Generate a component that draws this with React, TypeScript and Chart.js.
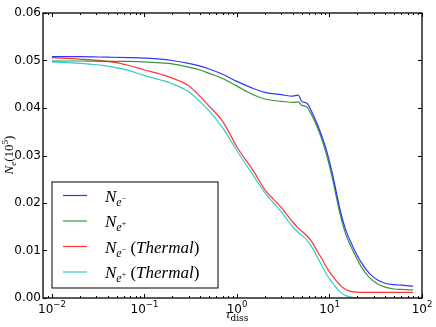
import React, { useEffect, useRef } from "react";
import { Chart, registerables } from "chart.js";

Chart.register(...registerables);

// ---- data ----
const tau = [0.01, 0.02, 0.04, 0.07, 0.1, 0.15, 0.2, 0.3, 0.4, 0.5, 0.7, 1, 1.5, 2, 3, 4, 4.6, 5, 5.7, 6.5, 7.3, 8.3, 9.4, 11, 13, 15, 18, 22, 27, 33, 40, 50, 60, 80];
const neMinus = [0.0508, 0.0508, 0.0507, 0.0506, 0.0505, 0.0503, 0.05, 0.0494, 0.0488, 0.0482, 0.0471, 0.0456, 0.0441, 0.0433, 0.0428, 0.0425, 0.0427, 0.0414, 0.041, 0.039, 0.0368, 0.034, 0.0307, 0.0253, 0.0186, 0.0143, 0.0107, 0.0075, 0.0052, 0.0038, 0.0031, 0.0028, 0.0027, 0.0025];
const nePlus = [0.0499, 0.0499, 0.0498, 0.0498, 0.0497, 0.0495, 0.0493, 0.0486, 0.048, 0.0473, 0.0462, 0.0446, 0.0428, 0.0419, 0.0414, 0.0412, 0.0413, 0.0406, 0.0402, 0.0383, 0.0362, 0.0333, 0.0298, 0.0243, 0.0177, 0.0134, 0.0099, 0.0066, 0.0043, 0.003, 0.0023, 0.0019, 0.0018, 0.0017];
const neMinusThermal = [0.0506, 0.0503, 0.0498, 0.0489, 0.048, 0.0471, 0.0463, 0.0447, 0.0424, 0.0404, 0.0372, 0.0318, 0.0268, 0.0228, 0.0191, 0.016, 0.0147, 0.0141, 0.0131, 0.0117, 0.01, 0.0082, 0.0063, 0.0044, 0.0027, 0.0018, 0.0013, 0.0012, 0.0012, 0.0012, 0.0012, 0.0012, 0.0012, 0.0012];
const nePlusThermal = [0.0497, 0.0494, 0.0488, 0.0478, 0.0468, 0.0459, 0.0451, 0.0434, 0.0413, 0.0394, 0.0358, 0.031, 0.0258, 0.0222, 0.0182, 0.015, 0.0138, 0.0132, 0.0122, 0.0106, 0.0088, 0.0068, 0.0048, 0.003, 0.0013, 0.0005, 0.0001, 0, 0, 0, 0, 0, 0, 0];

const seriesLabels = ["N_e\u2212", "N_e+", "N_e\u2212 (Thermal)", "N_e+ (Thermal)"];
const seriesSigns = ["\u2212", "+", "\u2212", "+"];
const seriesThermal = [false, false, true, true];
const seriesColors = ["rgba(0,0,255,0.8)", "rgba(0,128,0,0.8)", "rgba(255,0,0,0.8)", "rgba(0,191,191,0.8)"];

const xTickValues = [0.01, 0.1, 1, 10, 100];
const xTickExponents = ["\u22122", "\u22121", "0", "1", "2"];
const yTickValues = [0, 0.01, 0.02, 0.03, 0.04, 0.05, 0.06];
const xMin = 0.008;
const xMax = 100;

type Part = { t: string; size: number; italic?: boolean; dy?: number; family?: string };
const SERIF = "'Liberation Serif', 'DejaVu Serif', serif";
const SANS = "'DejaVu Sans', sans-serif";

function setFont(ctx: CanvasRenderingContext2D, p: Part) {
  ctx.font = `${p.italic ? "italic " : ""}${p.size}px ${p.family ?? SERIF}`;
}
function measureParts(ctx: CanvasRenderingContext2D, parts: Part[]) {
  let w = 0;
  for (const p of parts) {
    setFont(ctx, p);
    w += ctx.measureText(p.t).width;
  }
  return w;
}
function drawParts(ctx: CanvasRenderingContext2D, x: number, y: number, parts: Part[]) {
  let cx = x;
  for (const p of parts) {
    setFont(ctx, p);
    ctx.fillText(p.t, cx, y + (p.dy ?? 0));
    cx += ctx.measureText(p.t).width;
  }
  return cx;
}

const decorPlugin = {
  id: "decor",
  afterDatasetsDraw(chart: any) {
    const { ctx, chartArea: a, scales } = chart;
    const xs = scales.x;
    const ys = scales.y;
    ctx.save();
    ctx.strokeStyle = "#000";
    ctx.lineWidth = 1;
    const xLine = (v: number, len: number) => {
      const px = Math.round(xs.getPixelForValue(v)) + 0.5;
      ctx.beginPath();
      ctx.moveTo(px, a.bottom);
      ctx.lineTo(px, a.bottom - len);
      ctx.moveTo(px, a.top);
      ctx.lineTo(px, a.top + len);
      ctx.stroke();
    };
    for (const v of xTickValues) xLine(v, 4);
    for (let d = -3; d <= 1; d++) {
      for (let k = 2; k <= 9; k++) {
        const v = k * Math.pow(10, d);
        if (v > xMin && v < xMax) xLine(v, 2);
      }
    }
    for (const v of yTickValues) {
      const py = Math.round(ys.getPixelForValue(v)) + 0.5;
      ctx.beginPath();
      ctx.moveTo(a.left, py);
      ctx.lineTo(a.left + 4, py);
      ctx.moveTo(a.right, py);
      ctx.lineTo(a.right - 4, py);
      ctx.stroke();
    }
    ctx.lineWidth = 1.3;
    ctx.strokeRect(a.left, a.top, a.right - a.left, a.bottom - a.top);

    ctx.fillStyle = "#000";
    ctx.textBaseline = "alphabetic";
    ctx.textAlign = "left";
    xTickValues.forEach((v, i) => {
      const parts: Part[] = [
        { t: "10", size: 12, family: SANS },
        { t: xTickExponents[i], size: 8.5, family: SANS, dy: -6 },
      ];
      const w = measureParts(ctx, parts);
      const px = xs.getPixelForValue(v);
      drawParts(ctx, px - w / 2, a.bottom + 15, parts);
    });

    {
      const parts: Part[] = [
        { t: "\u03c4", size: 13, italic: true },
        { t: "diss", size: 9, dy: 3, family: "'DejaVu Serif', serif" },
      ];
      const w = measureParts(ctx, parts);
      drawParts(ctx, 237 - w / 2, 318, parts);
    }

    {
      ctx.save();
      ctx.translate(13, 155);
      ctx.rotate(-Math.PI / 2);
      const parts: Part[] = [
        { t: "N", size: 13, italic: true },
        { t: "e", size: 9, italic: true, dy: 3 },
        { t: "(10", size: 13 },
        { t: "5", size: 9, dy: -5 },
        { t: ")", size: 13 },
      ];
      const w = measureParts(ctx, parts);
      drawParts(ctx, -w / 2, 0, parts);
      ctx.restore();
    }

    const lx = 52, ly = 182, lw = 166, lh = 106;
    ctx.fillStyle = "#fff";
    ctx.fillRect(lx, ly, lw, lh);
    ctx.strokeStyle = "#000";
    ctx.lineWidth = 1;
    ctx.strokeRect(lx, ly, lw, lh);
    const rows = [195.5, 221, 246.5, 272];
    rows.forEach((ry, i) => {
      ctx.strokeStyle = seriesColors[i];
      ctx.lineWidth = 1.2;
      ctx.beginPath();
      ctx.moveTo(63, ry);
      ctx.lineTo(87, ry);
      ctx.stroke();
      ctx.fillStyle = "#000";
      const parts: Part[] = [
        { t: "N", size: 17, italic: true },
        { t: "e", size: 12, italic: true, dy: 4 },
        { t: seriesSigns[i], size: 8, dy: -1 },
      ];
      if (seriesThermal[i]) {
        parts.push({ t: " (", size: 17 });
        parts.push({ t: "Thermal", size: 17, italic: true });
        parts.push({ t: ")", size: 17 });
      }
      drawParts(ctx, 105, ry + 6, parts);
    });
    ctx.restore();
  },
};

export default function App() {
  const ref = useRef<HTMLCanvasElement | null>(null);
  useEffect(() => {
    if (!ref.current) return;
    const mk = (vals: number[]) => tau.map((t, i) => ({ x: t, y: vals[i] }));
    const allSeries = [neMinus, nePlus, neMinusThermal, nePlusThermal];
    const chart = new Chart(ref.current, {
      type: "line",
      data: {
        datasets: allSeries.map((s, i) => ({
          label: seriesLabels[i],
          data: mk(s),
          borderColor: seriesColors[i],
          backgroundColor: seriesColors[i],
          borderWidth: 1.2,
          pointRadius: 0,
          cubicInterpolationMode: "monotone",
          fill: false,
        })),
      },
      options: {
        animation: false,
        responsive: false,
        devicePixelRatio: 1,
        layout: { padding: { top: 13, right: 14, left: 0, bottom: 0 } },
        plugins: { legend: { display: false }, tooltip: { enabled: false } },
        scales: {
          x: {
            type: "logarithmic",
            min: xMin,
            max: xMax,
            grid: { display: false, drawTicks: false },
            border: { display: false },
            ticks: { display: false },
            afterFit: (s: any) => {
              s.height = 29;
            },
          },
          y: {
            type: "linear",
            min: 0,
            max: 0.06,
            grid: { display: false, drawTicks: false },
            border: { display: false },
            afterBuildTicks: (s: any) => {
              s.ticks = yTickValues.map((v) => ({ value: v }));
            },
            ticks: {
              padding: 2,
              color: "#000",
              font: { family: "'DejaVu Sans', sans-serif", size: 12 },
              callback: (v: any) => Number(v).toFixed(2),
            },
            afterFit: (s: any) => {
              s.width = 43;
            },
          },
        },
      },
      plugins: [decorPlugin],
    } as any);
    return () => chart.destroy();
  }, []);
  return (
    <div style={{ position: "absolute", left: 0, top: 0, width: 436, height: 327, background: "#fff" }}>
      <canvas ref={ref} width={436} height={327} style={{ display: "block" }} />
    </div>
  );
}
